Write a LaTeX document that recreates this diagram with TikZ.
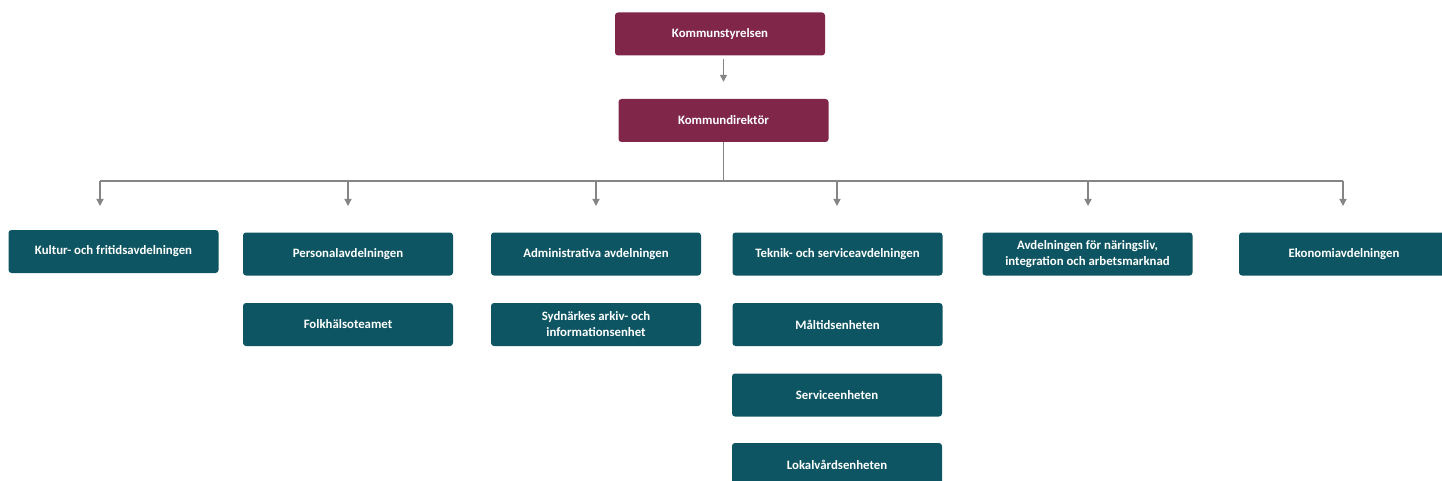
\documentclass[tikz,border=0pt]{standalone}
\usepackage{fontspec}
\setmainfont{Carlito}
\usetikzlibrary{arrows.meta}
\definecolor{boxmaroon}{HTML}{7F2649}
\definecolor{boxteal}{HTML}{0E5563}
\definecolor{linegray}{HTML}{858585}
\begin{document}
\begin{tikzpicture}[x=1pt,y=-1pt,
  box/.style={rounded corners=3pt, minimum width=210pt, minimum height=43pt, inner sep=0pt,
    font=\bfseries\fontsize{12.8}{16}\selectfont, text=white, align=center},
  topbox/.style={box, fill=boxmaroon},
  deptbox/.style={box, fill=boxteal},
  conn/.style={draw=linegray, line width=1.3pt},
  arr/.style={conn, -{Triangle[length=7pt,width=7pt]}}]
\useasboundingbox (0,0) rectangle (1442,481);
\clip (0,0) rectangle (1442,481);
\fill[white] (0,0) rectangle (1442,481);

\node[topbox] (ks) at (720,34) {Kommunstyrelsen};
\node[topbox] (kd) at (723.5,120.5) {Kommundirektör};

\node[deptbox] (kultur) at (113.5,251.5) {Kultur- och fritidsavdelningen};
\node[deptbox] (pers) at (348,254) {Personalavdelningen};
\node[deptbox] (folk) at (348,324.5) {Folkhälsoteamet};
\node[deptbox] (adm) at (596,254) {Administrativa avdelningen};
\node[deptbox] (syd) at (596,324.5) {Sydnärkes arkiv- och\\informationsenhet};
\node[deptbox] (tek) at (837.5,254) {Teknik- och serviceavdelningen};
\node[deptbox] (malt) at (837.5,324.5) {Måltidsenheten};
\node[deptbox] (serv) at (837,395) {Serviceenheten};
\node[deptbox] (lok) at (837,464.5) {Lokalvårdsenheten};
\node[deptbox] (avd) at (1087.5,254) {Avdelningen för näringsliv,\\integration och arbetsmarknad};
\node[deptbox] (eko) at (1344,254) {Ekonomiavdelningen};

\coordinate (busL) at (100,181);
\coordinate (busR) at (1343,181);
\coordinate (t1) at (100,206);
\coordinate (t2) at (348,206);
\coordinate (t3) at (596,206);
\coordinate (t4) at (837,206);
\coordinate (t5) at (1088,206);
\coordinate (t6) at (1343,206);

\draw[arr, shorten >=17pt] (kd.north |- ks.south) ++(0,3) -- (kd.north);
\draw[conn] (kd.south) -- (kd.south |- busL);
\draw[conn] (busL) -- (busR);
\foreach \t in {t1,t2,t3,t4,t5,t6}
  \draw[arr] (\t |- busL) -- (\t);
\end{tikzpicture}
\end{document}
